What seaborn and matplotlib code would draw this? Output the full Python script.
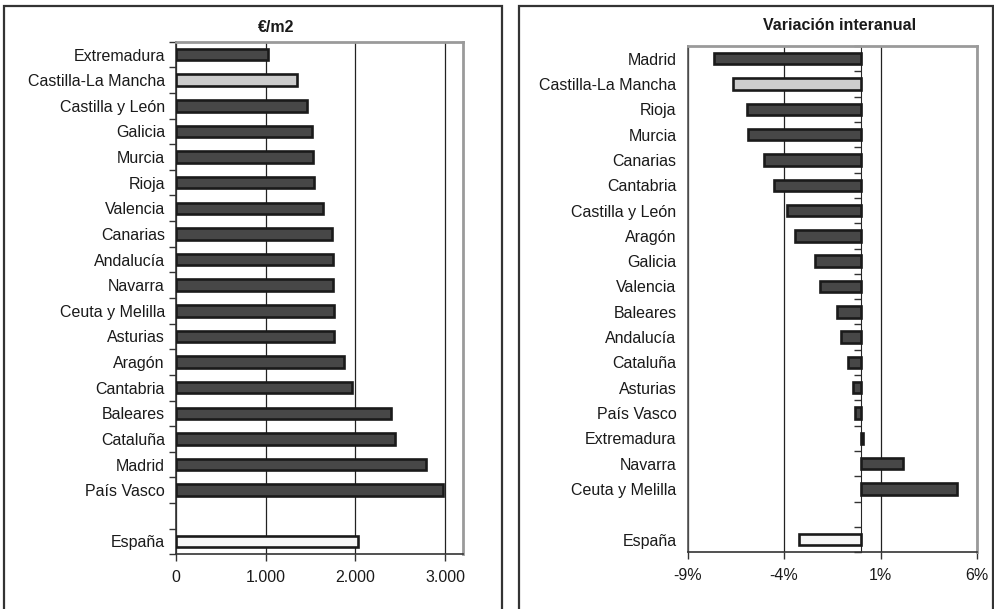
import matplotlib
matplotlib.use("Agg")
import matplotlib.pyplot as plt
from matplotlib.patches import Rectangle
from matplotlib.ticker import FuncFormatter, FixedLocator
import numpy as np
import pandas as pd
import seaborn as sns

# --- data ---
precio_regiones = ["Extremadura", "Castilla-La Mancha", "Castilla y León", "Galicia",
                   "Murcia", "Rioja", "Valencia", "Canarias", "Andalucía", "Navarra",
                   "Ceuta y Melilla", "Asturias", "Aragón", "Cantabria", "Baleares",
                   "Cataluña", "Madrid", "País Vasco", "España"]
precio_valores = [1031, 1348, 1464, 1520, 1531, 1534, 1639, 1739, 1746, 1754,
                  1758, 1758, 1873, 1963, 2402, 2443, 2786, 2972, 2030]

var_regiones = ["Madrid", "Castilla-La Mancha", "Rioja", "Murcia", "Canarias",
                "Cantabria", "Castilla y León", "Aragón", "Galicia", "Valencia",
                "Baleares", "Andalucía", "Cataluña", "Asturias", "País Vasco",
                "Extremadura", "Navarra", "Ceuta y Melilla", "España"]
var_valores = [-7.63, -6.66, -5.91, -5.86, -5.03, -4.53, -3.83, -3.45, -2.37, -2.11,
               -1.26, -1.05, -0.67, -0.41, -0.32, 0.08, 2.18, 4.94, -3.24]

destacado = "Castilla-La Mancha"
total = "España"

OSCURO = "#474747"
CLARO = "#cccccc"
BLANCO = "#f6f6f6"
BORDE = "#1a1a1a"
TEXTO = "#1a1a1a"

sns.set_style("white")
plt.rcParams["font.family"] = ["Liberation Sans", "DejaVu Sans"]
plt.rcParams["font.size"] = 11.5


def colores(regiones):
    pal = {}
    for r in regiones:
        if r == destacado:
            pal[r] = CLARO
        elif r == total:
            pal[r] = BLANCO
        else:
            pal[r] = OSCURO
    return pal


def orden_con_hueco(regiones):
    # regions, one empty slot, then the total
    return regiones[:-1] + [" "] + regiones[-1:]


def dibuja(ax, regiones, valores, xlim, xticks, fmt):
    df = pd.DataFrame({"region": regiones, "valor": valores})
    orden = orden_con_hueco(regiones)
    sns.barplot(data=df, y="region", x="valor", hue="region", order=orden,
                hue_order=regiones, palette=colores(regiones), orient="h",
                width=0.45, edgecolor=BORDE, linewidth=1.9, legend=False,
                ax=ax, zorder=3)
    ax.set_xlim(*xlim)
    ax.set_ylim(len(orden) - 0.5, -0.5)
    ax.set_xticks(xticks)
    ax.xaxis.set_major_formatter(FuncFormatter(fmt))
    ax.set_xlabel("")
    ax.set_ylabel("")
    ax.grid(axis="x", color="#222222", linewidth=0.9, zorder=0)
    ax.grid(axis="y", visible=False)
    ax.tick_params(axis="x", bottom=True, direction="out", length=5, width=1,
                   color="#333333", labelcolor=TEXTO, pad=6)
    ax.tick_params(axis="y", which="major", length=0, labelcolor=TEXTO, pad=8)
    for s in ["top", "right"]:
        ax.spines[s].set_color("#9a9a9a")
        ax.spines[s].set_linewidth(2)
    ax.spines["bottom"].set_color("#333333")
    ax.spines["bottom"].set_linewidth(1.2)
    return orden


fig = plt.figure(figsize=(9.94, 6.09), dpi=100)

# chart frames
for x0, x1 in [(4, 501.5), (519, 993)]:
    fig.patches.append(Rectangle((x0 / 994, -0.05), (x1 - x0) / 994, 1.05 - 6 / 609,
                                 transform=fig.transFigure, fill=False,
                                 edgecolor="#333333", linewidth=1.6))

# left panel: price per m2
ax1 = fig.add_axes([176 / 994, 1 - 554.3 / 609, 287 / 994, 512.6 / 609])
orden1 = dibuja(ax1, precio_regiones, precio_valores, (0, 3200), [0, 1000, 2000, 3000],
                lambda v, p: f"{int(v):,}".replace(",", "."))
ax1.spines["left"].set_color("#333333")
ax1.spines["left"].set_linewidth(1.2)
ax1.yaxis.set_minor_locator(FixedLocator(np.arange(len(orden1) + 1) - 0.5))
ax1.tick_params(axis="y", which="minor", left=True, direction="out", length=5,
                width=1, color="#333333")
fig.text(276 / 994, 1 - 28 / 609, "€/m2", ha="center", va="center",
         fontweight="bold", color=TEXTO)

# right panel: year-on-year change
ax2 = fig.add_axes([687.5 / 994, 1 - 552.3 / 609, 289.5 / 994, 506.3 / 609])
orden2 = dibuja(ax2, var_regiones, var_valores, (-9, 6), [-9, -4, 1, 6],
                lambda v, p: f"{v:.0f}%")
ax2.spines["left"].set_color("#555555")
ax2.spines["left"].set_linewidth(1.2)
# vertical axis crossing at 0 with category-boundary ticks
eje0 = ax2.secondary_yaxis(9 / 15)
eje0.set_yticks(np.arange(len(orden2) + 1) - 0.5)
eje0.set_yticklabels([])
eje0.tick_params(direction="in", length=5, width=1, color="#333333")
eje0.spines["left"].set_color("#222222")
eje0.spines["left"].set_linewidth(1.2)
fig.text(840 / 994, 1 - 26 / 609, "Variación interanual", ha="center", va="center",
         fontweight="bold", color=TEXTO)

fig.savefig("out.png", dpi=100)
